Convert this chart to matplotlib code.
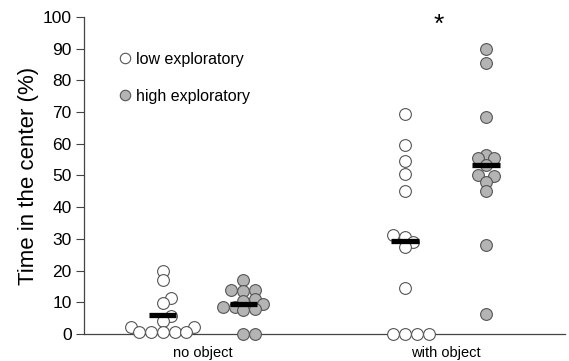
import matplotlib
matplotlib.use('Agg')
import matplotlib.pyplot as plt
from matplotlib.lines import Line2D
import numpy as np

plt.rcParams['font.family'] = ['Liberation Sans', 'DejaVu Sans']

# %% DATA
conditions = ['no object', 'with object']
low_no_obj = [20, 17, 11.3, 9.7, 5.5, 4, 2.3, 2.3, 0.7, 0.7, 0.7, 0.7, 0.7]
high_no_obj = [17, 14, 14, 13.5, 11, 10.5, 9.5, 8.5, 8, 8.5, 7.5, 0, 0]
low_with_obj = [69.5, 59.5, 54.5, 50.5, 45, 31.2, 30.7, 29.1, 27.5, 14.5,
                0, 0, 0, 0]
high_with_obj = [90, 85.5, 68.5, 56.5, 55.4, 55.4, 53.3, 50.2, 49.8, 48, 45,
                 28, 6.3]
groups = [low_no_obj, high_no_obj, low_with_obj, high_with_obj]
is_high = [False, True, False, True]
positions = [1, 2, 4, 5]

# %% HELPERS


def swarm(vals, center, dx, dy, step=0.34, min_dist=0.72):
    # place each point at the smallest side offset that keeps it
    # at least min_dist marker diameters away from the others
    placed = []
    xs = np.zeros(len(vals))
    order = np.argsort(vals)
    for i in order:
        y = vals[i]
        k = 0
        while True:
            cands = [0.0] if k == 0 else [k * step * dx, -k * step * dx]
            ok = None
            for c in cands:
                if all(((c - px) / dx) ** 2 + ((y - py) / dy) ** 2
                       >= min_dist ** 2 for px, py in placed):
                    ok = c
                    break
            if ok is not None:
                break
            k += 1
        placed.append((ok, y))
        xs[i] = center + ok
    return xs


# %% PLOT
fig = plt.figure(figsize=(5.69, 3.61), dpi=100)
ax = fig.add_axes([0.148, 0.075, 0.845, 0.878])

edge = '#555555'
fill_high = '#b4b4b4'
msize = 72
dx = 0.145  # marker diameter in x data units
dy = 3.7    # marker diameter in y data units

for vals, pos, high in zip(groups, positions, is_high):
    vals = np.array(vals, dtype=float)
    xs = swarm(vals, pos, dx, dy)
    ax.scatter(xs, vals, s=msize, facecolor=fill_high if high else 'white',
               edgecolor=edge, linewidth=0.8, zorder=3, clip_on=False)
    m = vals.mean()
    ax.plot([pos - 0.17, pos + 0.17], [m, m], color='black', lw=3.8,
            solid_capstyle='butt', zorder=4)

ax.set_xlim(0.03, 5.98)
ax.set_ylim(0, 100)
ax.set_yticks(np.arange(0, 101, 10))
ax.set_xticks([1.5, 4.5])
ax.set_xticklabels(conditions, fontsize=10.5)
ax.tick_params(axis='x', length=0, pad=9)
ax.tick_params(axis='y', length=6, width=0.8, color='#444444',
               labelsize=12.5, pad=3)
ax.set_ylabel('Time in the center (%)', fontsize=16, labelpad=3)
for s in ['top', 'right']:
    ax.spines[s].set_visible(False)
for s in ['left', 'bottom']:
    ax.spines[s].set_color('#444444')
    ax.spines[s].set_linewidth(0.9)

ax.text(4.42, 97.5, '*', fontsize=19, ha='center', va='center')

handles = [
    Line2D([], [], ls='none', marker='o', markersize=7.5,
           markerfacecolor='white', markeredgecolor=edge, markeredgewidth=0.8),
    Line2D([], [], ls='none', marker='o', markersize=7.5,
           markerfacecolor=fill_high, markeredgecolor=edge, markeredgewidth=0.8),
]
ax.legend(handles, ['low exploratory', 'high exploratory'], frameon=False,
          loc='upper left', bbox_to_anchor=(0.045, 0.935), fontsize=11.5,
          handlelength=0.6, handletextpad=0.4, labelspacing=1.35)

fig.savefig('out.png', dpi=100)
